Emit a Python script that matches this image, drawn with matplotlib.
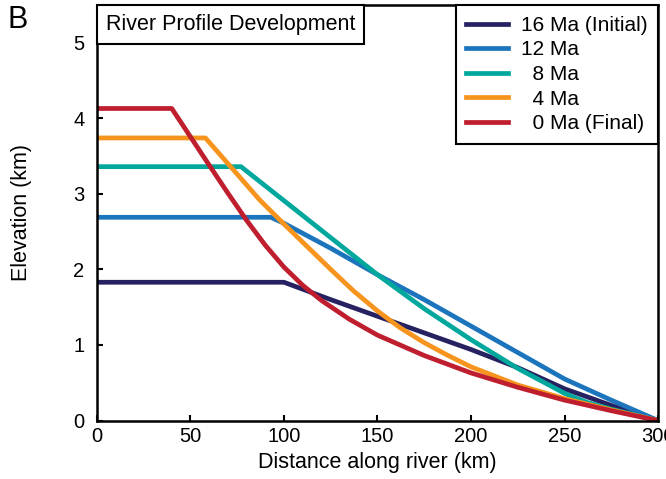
import matplotlib
matplotlib.use('Agg')
import matplotlib.pyplot as plt
from matplotlib.offsetbox import AnchoredText

plt.rcParams['font.family'] = ['Liberation Sans', 'DejaVu Sans']

# Datos (distancia en km, elevación en km)
x_16 = [0, 100, 125, 150, 175, 200, 225, 250, 275, 300]
y_16 = [1.83, 1.83, 1.60, 1.38, 1.16, 0.94, 0.70, 0.42, 0.20, 0.0]

x_12 = [0, 93, 100, 125, 150, 175, 200, 225, 250, 275, 300]
y_12 = [2.69, 2.69, 2.61, 2.28, 1.93, 1.60, 1.25, 0.90, 0.55, 0.27, 0.0]

x_8 = [0, 77, 100, 125, 150, 175, 200, 225, 250, 262, 275, 300]
y_8 = [3.36, 3.36, 2.91, 2.42, 1.93, 1.48, 1.07, 0.69, 0.36, 0.24, 0.15, 0.0]

x_4 = [0, 58, 75, 87, 100, 125, 137, 150, 162, 175, 187, 200, 225, 250, 275, 300]
y_4 = [3.74, 3.74, 3.26, 2.92, 2.60, 2.00, 1.72, 1.45, 1.23, 1.03, 0.87, 0.71, 0.47, 0.29, 0.14, 0.0]

x_0 = [0, 40, 60, 70, 80, 90, 100, 110, 120, 135, 150, 175, 200, 225, 250, 275, 300]
y_0 = [4.13, 4.13, 3.38, 3.01, 2.65, 2.32, 2.03, 1.79, 1.59, 1.34, 1.13, 0.86, 0.63, 0.44, 0.27, 0.13, 0.0]

labels = ['16 Ma (Initial)', '12 Ma', '  8 Ma', '  4 Ma', '  0 Ma (Final)']
colors = ['#262262', '#1c75bc', '#00a79d', '#f7941d', '#be1e2d']
series = [(x_16, y_16), (x_12, y_12), (x_8, y_8), (x_4, y_4), (x_0, y_0)]

xticks = [0, 50, 100, 150, 200, 250, 300]
yticks = [0, 1, 2, 3, 4, 5]

fig = plt.figure(figsize=(6.66, 4.79), dpi=100)
ax = fig.add_axes([0.1456, 0.1221, 0.8424, 0.8675])

for (xs, ys), lab, c in zip(series, labels, colors):
    ax.plot(xs, ys, color=c, linewidth=3.4, label=lab, solid_joinstyle='round')

ax.set_xlim(0, 300)
ax.set_ylim(0, 5.5)
ax.set_xticks(xticks)
ax.set_yticks(yticks)
ax.tick_params(direction='in', length=4.5, width=1.5, labelsize=14.5)
ax.tick_params(axis='x', pad=5)
ax.tick_params(axis='y', pad=9)

for s in ax.spines.values():
    s.set_linewidth(1.8)

ax.set_xlabel('Distance along river (km)', fontsize=15.5, labelpad=4)
ax.set_ylabel('Elevation (km)', fontsize=15.5, labelpad=30)

leg = ax.legend(loc='upper right', borderaxespad=0, fontsize=15, fancybox=False,
                edgecolor='black', framealpha=1, handlelength=2.0,
                handletextpad=0.6, labelspacing=0.27, borderpad=0.52)
leg.get_frame().set_linewidth(1.5)
for h in leg.get_lines():
    h.set_linewidth(3.4)

at = AnchoredText('River Profile Development', loc='upper left', pad=0.42,
                  borderpad=0, prop=dict(size=15.5))
at.patch.set_boxstyle('square,pad=0')
at.patch.set_linewidth(1.5)
ax.add_artist(at)

fig.text(0.012, 0.99, 'B', fontsize=22, va='top', ha='left')

fig.savefig('out.png', dpi=100)
